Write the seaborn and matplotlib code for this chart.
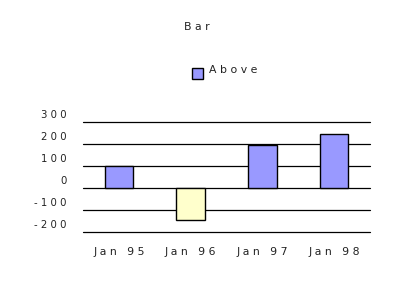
import matplotlib
matplotlib.use("Agg")
import matplotlib.pyplot as plt
import matplotlib.transforms as mtransforms
from matplotlib.patches import Rectangle
import seaborn as sns
import pandas as pd

categories = ["Jan 95", "Jan 96", "Jan 97", "Jan 98"]
values = [100, -145, 195, 244]
y_ticks = [-200, -100, 0, 100, 200, 300]
title = "Bar"
legend_label = "Above"

def spaced(s):
    return " ".join(s)

sns.set_theme(style="white")
plt.rcParams["font.family"] = ["DejaVu Sans"]

df = pd.DataFrame({"cat": categories, "val": values})
df["sign"] = ["Above" if v >= 0 else "Below" for v in values]

fig = plt.figure(figsize=(4.0, 3.02), dpi=100)
ax = fig.add_axes([0.2075, 0.2318, 0.7175, 0.3642])
sns.barplot(data=df, x="cat", y="val", hue="sign",
            palette={"Above": "#9999FF", "Below": "#FFFFCC"},
            hue_order=["Above", "Below"], dodge=False, width=0.4,
            saturation=1, edgecolor="black", linewidth=1.0,
            legend=False, ax=ax, zorder=3)

ax.set_ylim(-200, 300)
ax.set_xlim(-0.5, 3.5)
for t in y_ticks:
    ax.axhline(t, color="black", linewidth=0.9, zorder=1, clip_on=False)
for s in ax.spines.values():
    s.set_visible(False)
ax.set_yticks(y_ticks)
ax.set_yticklabels([spaced(str(t)) for t in y_ticks], fontsize=7.3, color="#222222")
ax.tick_params(axis="y", length=0, pad=12)
off = mtransforms.ScaledTranslation(0, 5.5/72, fig.dpi_scale_trans)
for lab in ax.get_yticklabels():
    lab.set_transform(lab.get_transform() + off)
ax.set_xticks(range(len(categories)))
ax.set_xticklabels([spaced(c) for c in categories], fontsize=7.8, color="#222222")
ax.tick_params(axis="x", length=0, pad=11)
ax.set_xlabel("")
ax.set_ylabel("")
ax.grid(False)

fig.text(0.4925, 0.91, spaced(title), fontsize=7.8, ha="center", va="center", color="#222222")
fig.patches.append(Rectangle((192/400, 1 - 79/302), 11/400, 11/302,
                             transform=fig.transFigure, facecolor="#9999FF",
                             edgecolor="black", linewidth=1.0))
fig.text(209/400, 1 - 70/302, spaced(legend_label), fontsize=7.8, ha="left", va="center", color="#222222")

fig.savefig("out.png", dpi=100)
